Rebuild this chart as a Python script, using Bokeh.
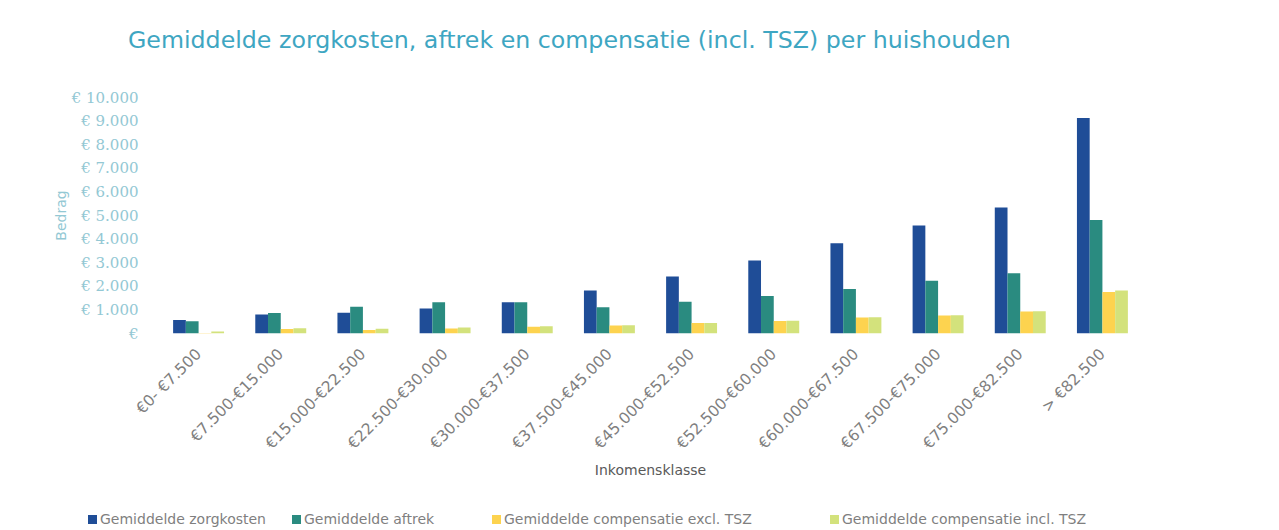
from bokeh.plotting import figure
from bokeh.models import ColumnDataSource, FactorRange, Range1d, FixedTicker, Div
from bokeh.layouts import column
from bokeh.transform import dodge
from bokeh.embed import file_html
from bokeh.resources import INLINE
import math

title_text = "Gemiddelde zorgkosten, aftrek en compensatie (incl. TSZ) per huishouden"
categories = ["€0- €7.500", "€7.500-€15.000", "€15.000-€22.500", "€22.500-€30.000",
              "€30.000-€37.500", "€37.500-€45.000", "€45.000-€52.500", "€52.500-€60.000",
              "€60.000-€67.500", "€67.500-€75.000", "€75.000-€82.500", "> €82.500"]
zorgkosten = [570, 800, 880, 1060, 1320, 1820, 2410, 3090, 3820, 4580, 5340, 9130]
aftrek = [520, 870, 1130, 1320, 1320, 1110, 1350, 1590, 1890, 2240, 2550, 4810]
comp_excl = [20, 190, 150, 210, 290, 340, 440, 530, 680, 760, 930, 1760]
comp_incl = [80, 220, 200, 250, 310, 350, 450, 540, 690, 770, 940, 1820]
series_names = ["Gemiddelde zorgkosten", "Gemiddelde aftrek",
                "Gemiddelde compensatie excl. TSZ", "Gemiddelde compensatie incl. TSZ"]
y_ticks = [0, 1000, 2000, 3000, 4000, 5000, 6000, 7000, 8000, 9000, 10000]
y_tick_labels = ["€", "€ 1.000", "€ 2.000", "€ 3.000", "€ 4.000", "€ 5.000",
                 "€ 6.000", "€ 7.000", "€ 8.000", "€ 9.000", "€ 10.000"]

colors = ["#1f4d97", "#2a8b80", "#fdd34f", "#d3e27c"]

source = ColumnDataSource(dict(cat=categories, zk=zorgkosten, af=aftrek,
                               ex=comp_excl, inc=comp_incl))

W = 1279
HT, HP, HL = 60, 440, 30

title_div = Div(
    text=("<div style=\"font-family:'DejaVu Sans';font-size:23.7px;color:#3ea6c2;"
          "white-space:nowrap;line-height:28px\">" + title_text + "</div>"),
    width=W, height=HT, margin=0,
    styles={"padding-left": "128px", "padding-top": "26px", "box-sizing": "border-box"})

p = figure(x_range=FactorRange(*categories), y_range=Range1d(0, 10000),
           width=W, height=HP, output_backend="svg", toolbar_location=None,
           min_border_left=157, min_border_right=136, min_border_top=97 - HT,
           min_border_bottom=HP - (333 - HT), margin=0)
p.outline_line_color = None
p.background_fill_color = "white"
p.xgrid.visible = False
p.ygrid.visible = False

bw = 0.155
offs = [-1.5 * bw, -0.5 * bw, 0.5 * bw, 1.5 * bw]
fields = ["zk", "af", "ex", "inc"]
for f, o, c in zip(fields, offs, colors):
    p.vbar(x=dodge("cat", o, range=p.x_range), top=f, width=bw, source=source,
           fill_color=c, line_color=None)

# y axis
yax = p.yaxis[0]
yax.ticker = FixedTicker(ticks=y_ticks)
yax.major_label_overrides = {v: s for v, s in zip(y_ticks, y_tick_labels)}
yax.major_label_text_font = "DejaVu Serif"
yax.major_label_text_font_size = "15px"
yax.major_label_text_color = "#93c8d4"
yax.major_label_standoff = 13
yax.axis_line_color = None
yax.major_tick_line_color = None
yax.minor_tick_line_color = None
yax.axis_label = "Bedrag"
yax.axis_label_text_font = "DejaVu Sans"
yax.axis_label_text_font_size = "14px"
yax.axis_label_text_font_style = "normal"
yax.axis_label_text_color = "#93c8d4"
yax.axis_label_standoff = 0

# x axis
xax = p.xaxis[0]
xax.major_label_orientation = math.pi / 4
xax.major_label_text_font = "DejaVu Sans"
xax.major_label_text_font_size = "15.5px"
xax.major_label_text_color = "#7f7f7f"
xax.major_label_standoff = 12
xax.axis_line_color = None
xax.major_tick_line_color = None
xax.minor_tick_line_color = None
xax.axis_label = "Inkomensklasse"
xax.axis_label_text_font = "DejaVu Sans"
xax.axis_label_text_font_size = "14px"
xax.axis_label_text_font_style = "normal"
xax.axis_label_text_color = "#595959"
xax.axis_label_standoff = 0

# legend strip
legend_left = [88, 292, 492, 830]
parts = []
for n, c, lx in zip(series_names, colors, legend_left):
    parts.append(
        f"<span style=\"position:absolute;left:{lx}px;top:0px;white-space:nowrap;\">"
        f"<span style=\"display:inline-block;width:9px;height:9px;background:{c};"
        f"margin-right:3px;vertical-align:0px\"></span>{n}</span>")
legend_div = Div(
    text=("<div style=\"position:relative;width:1279px;height:20px;font-family:'DejaVu Sans';"
          "font-size:14px;color:#7f7f7f;line-height:17px\">" + "".join(parts) + "</div>"),
    width=W, height=HL, margin=0,
    styles={"padding-top": "11px", "box-sizing": "border-box"})

layout = column(title_div, p, legend_div, spacing=0)
open("out.html", "w").write(file_html(layout, INLINE))
